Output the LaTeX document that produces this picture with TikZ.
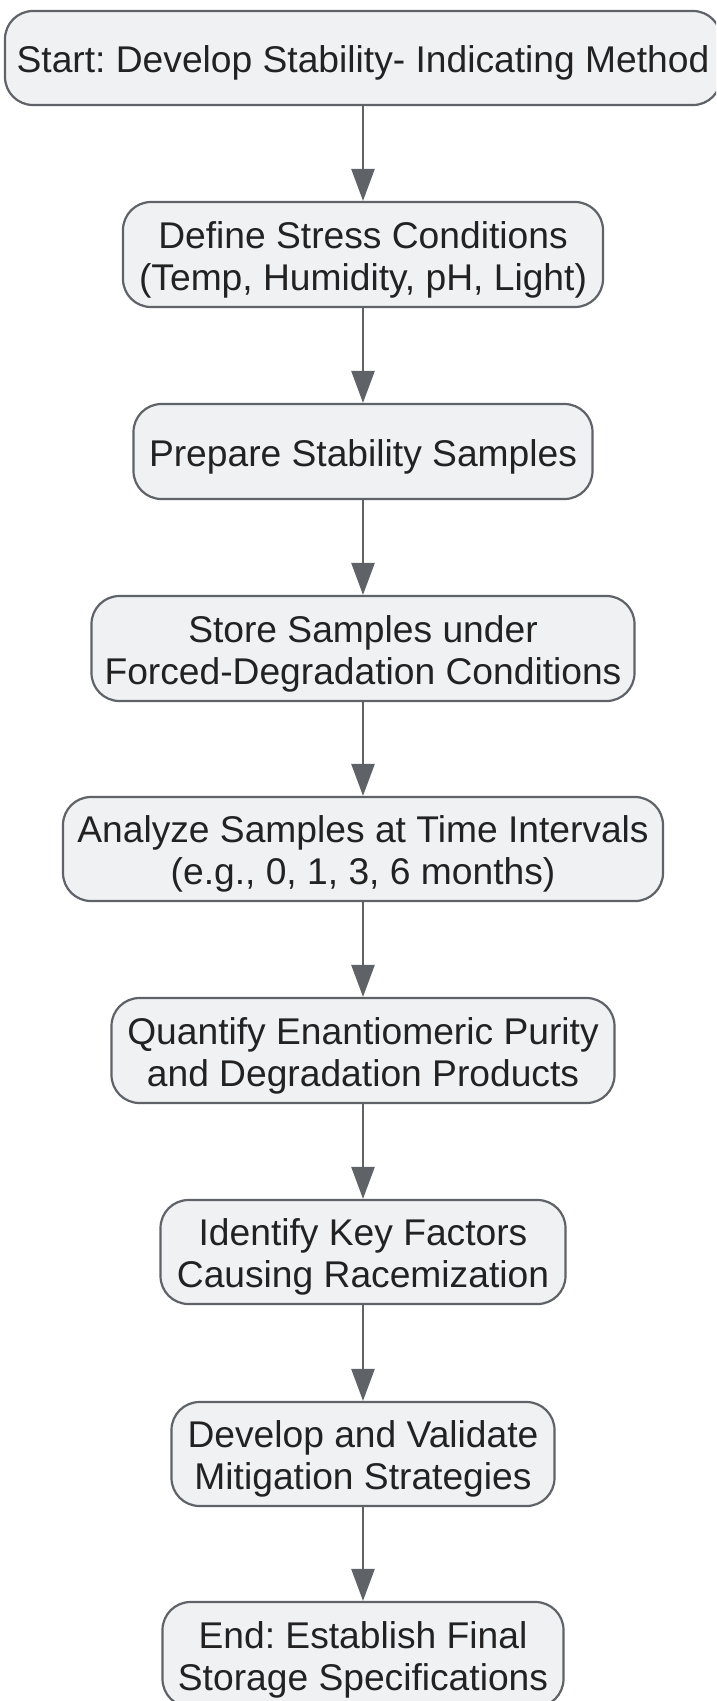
\documentclass[tikz,border=0pt]{standalone}
\usepackage{fontspec}
\setmainfont{Liberation Sans}
\usetikzlibrary{arrows.meta}
\definecolor{boxfill}{HTML}{F0F1F3}
\definecolor{boxdraw}{HTML}{5F6368}
\definecolor{txt}{HTML}{222222}
\newcommand{\ls}{\rule{0pt}{37pt}}
\frenchspacing
\begin{document}
\begin{tikzpicture}[x=1pt,y=-1pt,
  flowbox/.style={draw=boxdraw, fill=boxfill, line width=2.2pt, rounded corners=28pt,
    text=txt, align=center, inner sep=0pt, font=\fontsize{37.2pt}{42pt}\selectfont\frenchspacing},
  flowarrow/.style={draw=boxdraw, line width=2.6pt, -{Triangle[length=32pt,width=23pt]}}]
\useasboundingbox (0,0) rectangle (716,1701);
\clip (0,0) rectangle (716,1701);
\fill[white] (0,0) rectangle (716,1701);
\node[flowbox, minimum width=716pt, minimum height=94pt] (n1) at (363,58) {\ls Start: Develop Stability- Indicating Method};
\node[flowbox, minimum width=480pt, minimum height=105pt] (n2) at (363,254.5) {\ls Define Stress Conditions\\(Temp, Humidity, pH, Light)};
\node[flowbox, minimum width=459pt, minimum height=95pt] (n3) at (363,451.5) {\ls Prepare Stability Samples};
\node[flowbox, minimum width=543pt, minimum height=105pt] (n4) at (363,648.5) {\ls Store Samples under\\Forced-Degradation Conditions};
\node[flowbox, minimum width=600pt, minimum height=104pt] (n5) at (363,849) {\ls Analyze Samples at Time Intervals\\(e.g., 0, 1, 3, 6 months)};
\node[flowbox, minimum width=503pt, minimum height=105pt] (n6) at (363,1050.5) {\ls Quantify Enantiomeric Purity\\and Degradation Products};
\node[flowbox, minimum width=405pt, minimum height=104pt] (n7) at (363,1252) {\ls Identify Key Factors\\Causing Racemization};
\node[flowbox, minimum width=383pt, minimum height=104pt] (n8) at (363,1454) {\ls Develop and Validate\\Mitigation Strategies};
\node[flowbox, minimum width=401pt, minimum height=105pt] (n9) at (363,1654.5) {\ls End: Establish Final\\Storage Specifications};
\foreach \a/\b in {n1/n2,n2/n3,n3/n4,n4/n5,n5/n6,n6/n7,n7/n8,n8/n9}
  \draw[flowarrow] (\a) -- (\b);
\end{tikzpicture}
\end{document}
